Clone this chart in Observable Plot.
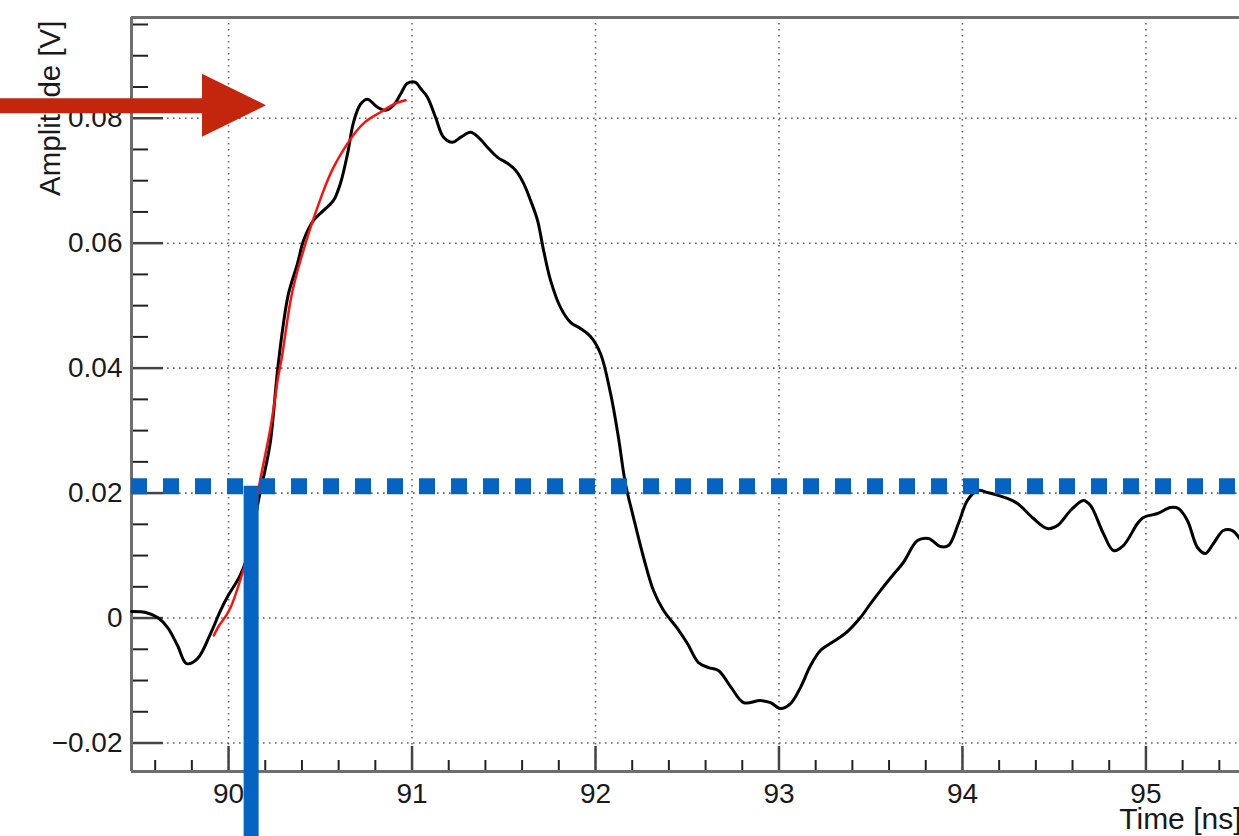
<!DOCTYPE html>
<html><head><meta charset="utf-8">
<script src="https://cdn.jsdelivr.net/npm/d3@7"></script>
<script src="https://cdn.jsdelivr.net/npm/@observablehq/plot@0.6"></script>
<style>html,body{margin:0;padding:0;background:#fff;overflow:hidden}</style>
</head><body><div id="chart"></div>
<script>
// Waveform (black)
const timeNs = [89.471, 89.548, 89.613, 89.668, 89.722, 89.771, 89.831, 89.902, 89.956, 89.995, 90.065, 90.120, 90.163, 90.202, 90.229, 90.267, 90.300, 90.327, 90.376, 90.409, 90.463, 90.518, 90.572, 90.610, 90.649, 90.681, 90.719, 90.757, 90.812, 90.856, 90.899, 90.937, 90.975, 91.019, 91.046, 91.084, 91.128, 91.172, 91.221, 91.264, 91.319, 91.362, 91.411, 91.466, 91.520, 91.564, 91.608, 91.646, 91.684, 91.717, 91.755, 91.809, 91.864, 91.918, 91.973, 92.027, 92.082, 92.125, 92.163, 92.207, 92.262, 92.316, 92.371, 92.447, 92.501, 92.561, 92.616, 92.670, 92.736, 92.807, 92.899, 92.954, 93.008, 93.063, 93.117, 93.172, 93.226, 93.297, 93.373, 93.444, 93.499, 93.553, 93.619, 93.678, 93.755, 93.815, 93.880, 93.924, 93.978, 94.027, 94.082, 94.136, 94.245, 94.300, 94.387, 94.463, 94.518, 94.589, 94.659, 94.698, 94.768, 94.823, 94.877, 94.954, 94.986, 95.063, 95.134, 95.177, 95.226, 95.281, 95.324, 95.368, 95.422, 95.471, 95.510];
const amplitudeV = [0.00104, 0.00088, 0.00008, -0.00152, -0.00440, -0.00729, -0.00649, -0.00248, 0.00120, 0.00344, 0.00697, 0.01161, 0.01882, 0.02410, 0.02842, 0.03963, 0.04732, 0.05196, 0.05677, 0.06045, 0.06365, 0.06525, 0.06685, 0.06958, 0.07438, 0.07934, 0.08223, 0.08303, 0.08175, 0.08127, 0.08207, 0.08383, 0.08559, 0.08575, 0.08479, 0.08335, 0.08015, 0.07694, 0.07614, 0.07694, 0.07774, 0.07694, 0.07534, 0.07374, 0.07278, 0.07166, 0.06958, 0.06685, 0.06365, 0.05885, 0.05404, 0.04972, 0.04732, 0.04636, 0.04508, 0.04235, 0.03595, 0.02890, 0.02154, 0.01609, 0.00969, 0.00440, 0.00120, -0.00168, -0.00408, -0.00713, -0.00793, -0.00841, -0.01097, -0.01353, -0.01321, -0.01353, -0.01449, -0.01369, -0.01113, -0.00761, -0.00520, -0.00376, -0.00216, 0.00008, 0.00232, 0.00440, 0.00681, 0.00889, 0.01241, 0.01273, 0.01145, 0.01161, 0.01513, 0.01882, 0.02042, 0.02010, 0.01914, 0.01834, 0.01593, 0.01433, 0.01481, 0.01721, 0.01882, 0.01801, 0.01353, 0.01081, 0.01161, 0.01513, 0.01609, 0.01673, 0.01769, 0.01753, 0.01561, 0.01129, 0.01033, 0.01193, 0.01401, 0.01401, 0.01273];

// Fit of the rising edge (red)
const fitTimeNs = [89.920, 89.956, 90.011, 90.075, 90.120, 90.165, 90.229, 90.267, 90.294, 90.338, 90.392, 90.447, 90.512, 90.572, 90.649, 90.736, 90.828, 90.899, 90.965];
const fitAmplitudeV = [-0.00280, -0.00088, 0.00168, 0.00713, 0.01241, 0.02090, 0.03050, 0.03803, 0.04235, 0.05084, 0.05725, 0.06253, 0.06798, 0.07214, 0.07598, 0.07918, 0.08095, 0.08223, 0.08287];

// Threshold annotation (blue)
const thresholdV = 0.0211;
const crossingTimeNs = 90.123;
const crossingBarEndV = -0.035;

// Peak arrow annotation (red)
const arrowLevelV = 0.08199;
const arrowTailNs = 88.757;
const arrowHeadBaseNs = 89.858;
const arrowTipNs = 90.207;
const arrowHeadLowV = 0.07694;
const arrowHeadHighV = 0.08703;

// Axes
const xDomain = [89.471, 95.51];
const yDomain = [-0.02456, 0.09612];
const xMajorTicks = [90, 91, 92, 93, 94, 95];
const xTickLabels = ["90", "91", "92", "93", "94", "95"];
const xMinorTicks = [89.6, 89.8, 90.2, 90.4, 90.6, 90.8, 91.2, 91.4, 91.6, 91.8, 92.2, 92.4, 92.6, 92.8, 93.2, 93.4, 93.6, 93.8, 94.2, 94.4, 94.6, 94.8, 95.2, 95.4];
const yMajorTicks = [-0.02, 0, 0.02, 0.04, 0.06, 0.08];
const yTickLabels = ["\u22120.02", "0", "0.02", "0.04", "0.06", "0.08"];
const yMinorTicks = [-0.015, -0.01, -0.005, 0.005, 0.01, 0.015, 0.025, 0.03, 0.035, 0.045, 0.05, 0.055, 0.065, 0.07, 0.075, 0.085, 0.09, 0.095];
const xTitle = "Time [ns]";
const yTitle = "Amplitude [V]";

const wave = timeNs.map((t, i) => ({t, v: amplitudeV[i]}));
const fit = fitTimeNs.map((t, i) => ({t, v: fitAmplitudeV[i]}));
const arrowHead = [
  {t: arrowHeadBaseNs, lo: arrowHeadLowV, hi: arrowHeadHighV},
  {t: arrowTipNs, lo: arrowLevelV, hi: arrowLevelV}
];

const FONT = "'Liberation Sans', Arial, Helvetica, sans-serif";
const BLUE = "#0563C1";
const ARROW = "#C3260C";
const FRAME = "#6e6e6e";

const chart = Plot.plot({
  width: 1239,
  height: 836,
  marginLeft: 131,
  marginRight: 0,
  marginTop: 17,
  marginBottom: 65,
  style: {fontFamily: FONT, fontSize: "28px", color: "#1a1a1a", background: "#fff", overflow: "visible"},
  x: {domain: xDomain},
  y: {domain: yDomain},
  marks: [
    Plot.gridX(xMajorTicks, {stroke: "#333", strokeOpacity: 0.75, strokeWidth: 1.6, strokeDasharray: "1.6,4.4"}),
    Plot.gridY(yMajorTicks, {stroke: "#333", strokeOpacity: 0.75, strokeWidth: 1.6, strokeDasharray: "1.6,4.4"}),
    Plot.axisY(yMinorTicks, {anchor: "left", tickSize: -17, tickFormat: () => "", label: null, stroke: "#222", strokeWidth: 2}),
    Plot.axisY(yMajorTicks, {anchor: "left", tickSize: -32, tickPadding: 41, tickFormat: d => yTickLabels[yMajorTicks.indexOf(d)], label: null, fontSize: 28, stroke: "#444", strokeWidth: 2.5}),
    Plot.axisX(xMinorTicks, {anchor: "bottom", tickSize: -11, tickFormat: () => "", label: null, stroke: "#222", strokeWidth: 2}),
    Plot.axisX(xMajorTicks, {anchor: "bottom", tickSize: -25, tickPadding: 37, tickFormat: d => xTickLabels[xMajorTicks.indexOf(d)], label: null, fontSize: 28, stroke: "#444", strokeWidth: 2.5}),
    Plot.ruleX([xDomain[0]], {stroke: FRAME, strokeWidth: 3}),
    Plot.ruleY([yDomain[0], yDomain[1]], {stroke: FRAME, strokeWidth: 3}),
    Plot.line(wave, {x: "t", y: "v", stroke: "#000", strokeWidth: 3, curve: "catmull-rom"}),
    Plot.line(fit, {x: "t", y: "v", stroke: "#ff1010", strokeWidth: 2.5, curve: "natural"}),
    Plot.ruleY([thresholdV], {x1: xDomain[0], x2: xDomain[1], stroke: BLUE, strokeWidth: 16, strokeDasharray: "16,16"}),
    Plot.ruleX([crossingTimeNs], {y1: thresholdV, y2: crossingBarEndV, stroke: BLUE, strokeWidth: 15}),
    Plot.text([yTitle], {frameAnchor: "top-left", rotate: -90, textAnchor: "end", lineAnchor: "middle", dx: -81, dy: 3, fontSize: 29.5, fill: "#1a1a1a"}),
    Plot.text([xTitle], {frameAnchor: "bottom-right", textAnchor: "end", lineAnchor: "middle", dx: 2, dy: 48, fontSize: 30, fill: "#1a1a1a"}),
    Plot.ruleY([arrowLevelV], {x1: arrowTailNs, x2: arrowHeadBaseNs, stroke: ARROW, strokeWidth: 15}),
    Plot.areaY(arrowHead, {x: "t", y1: "lo", y2: "hi", fill: ARROW})
  ]
});
document.getElementById("chart").appendChild(chart);
</script>
</body></html>
